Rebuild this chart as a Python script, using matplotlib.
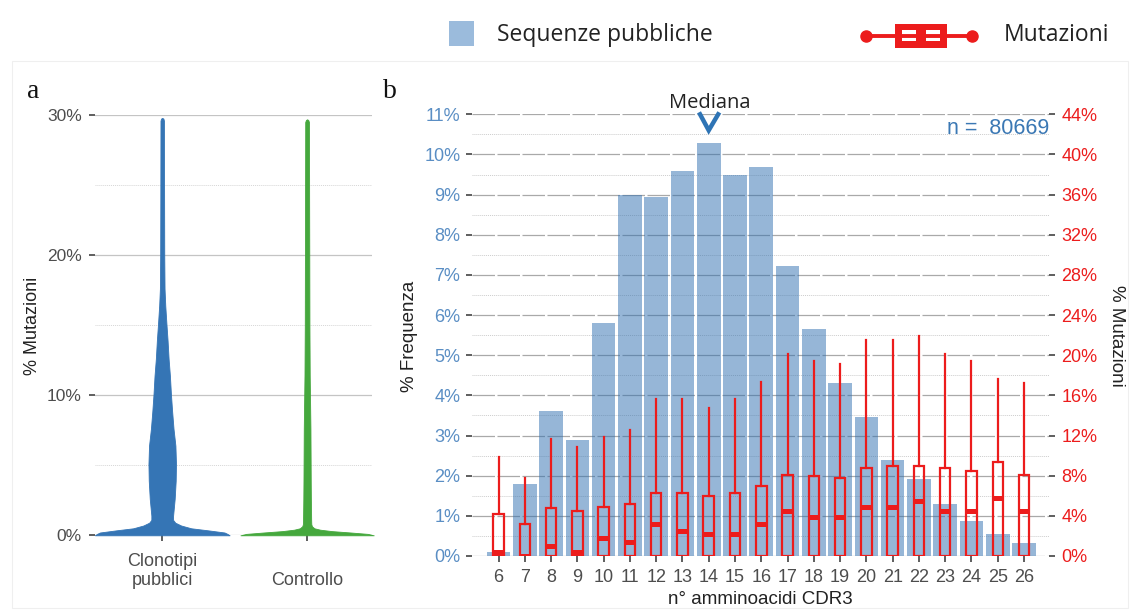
import matplotlib
matplotlib.use("Agg")
import matplotlib.pyplot as plt
from matplotlib.patches import Rectangle
from matplotlib.ticker import FuncFormatter, MultipleLocator

# ---------------- data ----------------
# panel a: violin profiles (half-width in category units at each % mutation level)
violin_groups = ["Clonotipi\npubblici", "Controllo"]
violin_colors = ["#3575b5", "#45a83d"]
mut_pubblici = [0, 0.1, 0.2, 0.35, 0.5, 0.7, 0.9, 1.1, 1.4, 2.6, 3.9, 5.1, 6.4, 7.6,
                8.9, 10.1, 11.4, 12.6, 13.9, 15.1, 16.4, 17.6, 20, 24, 29.6, 29.75, 29.8]
hw_pubblici = [0.465, 0.45, 0.43, 0.32, 0.2, 0.13, 0.09, 0.075, 0.075, 0.086, 0.093,
               0.095, 0.091, 0.078, 0.068, 0.060, 0.053, 0.044, 0.037, 0.029, 0.021,
               0.016, 0.014, 0.013, 0.012, 0.008, 0.0]
mut_controllo = [0, 0.1, 0.2, 0.3, 0.4, 0.5, 0.65, 0.8, 1.1, 2.6, 3.9, 7.6, 11.4, 15,
                 20, 24, 29.5, 29.65, 29.7]
hw_controllo = [0.46, 0.42, 0.30, 0.17, 0.09, 0.05, 0.033, 0.029, 0.028, 0.026, 0.025,
                0.023, 0.018, 0.016, 0.015, 0.014, 0.013, 0.008, 0.0]

# panel b: CDR3 length distribution and mutation boxplots
cdr3_len = [6, 7, 8, 9, 10, 11, 12, 13, 14, 15, 16, 17, 18, 19, 20, 21, 22, 23, 24, 25, 26]
freq_pct = [0.1, 1.8, 3.61, 2.89, 5.8, 9.0, 8.94, 9.59, 10.28, 9.5, 9.7, 7.21, 5.66,
            4.3, 3.45, 2.38, 1.93, 1.3, 0.87, 0.55, 0.32]
mut_q1 = [0, 0, 0, 0, 0, 0, 0, 0, 0, 0, 0, 0, 0, 0, 0, 0, 0, 0, 0, 0, 0]
mut_med = [0.35, 0, 1.03, 0.35, 1.79, 1.39, 3.15, 2.49, 2.16, 2.16, 3.15, 4.51, 3.85,
           3.85, 4.9, 4.84, 5.5, 4.51, 4.51, 5.74, 4.51]
mut_q3 = [4.21, 3.2, 4.78, 4.48, 4.88, 5.14, 6.27, 6.27, 5.94, 6.27, 6.97, 8.06, 8.0,
          7.8, 8.72, 8.96, 8.99, 8.72, 8.46, 9.38, 8.03]
mut_whi = [9.82, 7.8, 11.7, 10.9, 11.9, 12.6, 15.6, 15.6, 14.7, 15.6, 17.3, 20.1, 19.4,
           19.1, 21.5, 21.5, 21.9, 20.1, 19.4, 17.6, 17.2]
median_len = 14
n_total = 80669

# ---------------- styling ----------------
W, H = 1136, 610
fig = plt.figure(figsize=(W / 100, H / 100), dpi=100)
SANS = ["Liberation Sans", "DejaVu Sans"]
plt.rcParams["font.family"] = SANS
GREY_TXT = "#4d4d4d"
BLUE_TXT = "#5a8ec4"
RED = "#ec1c1c"
BAR_BLUE = "#2f6fb0"


def px_axes(l, t, r, b):
    return fig.add_axes([l / W, 1 - b / H, (r - l) / W, (b - t) / H])


def fpos(x, y):
    return x / W, 1 - y / H


pct = FuncFormatter(lambda v, _: f"{v:.0f}%")

# ---------------- panel a: violins ----------------
axa = px_axes(95, 115.1, 372.3, 535.3)
axa.set_xlim(0.536, 2.45)
axa.set_ylim(0, 30)
for i, (ys, hw) in enumerate([(mut_pubblici, hw_pubblici), (mut_controllo, hw_controllo)]):
    c = i + 1
    axa.fill_betweenx(ys, [c - h for h in hw], [c + h for h in hw],
                      color=violin_colors[i], lw=0.6, edgecolor=violin_colors[i],
                      clip_on=False, zorder=3)
axa.yaxis.set_major_locator(MultipleLocator(10))
axa.yaxis.set_minor_locator(MultipleLocator(5))
axa.yaxis.set_major_formatter(pct)
axa.grid(axis="y", which="major", color="#c4c4c4", lw=0.9, ls="-")
axa.grid(axis="y", which="minor", color="#d6d6d6", lw=0.7, ls=(0, (1, 1)))
axa.set_axisbelow(True)
for s in axa.spines.values():
    s.set_visible(False)
axa.set_xticks([1, 2])
axa.set_xticklabels(violin_groups, fontsize=13, color=GREY_TXT, linespacing=1.12)
for lab in axa.get_xticklabels():
    lab.set_verticalalignment("bottom")
axa.tick_params(axis="x", length=4, width=1.1, color="#333333", pad=34.5)
axa.tick_params(axis="y", which="major", length=4, width=1.1, color="#333333",
                labelsize=12.5, labelcolor=GREY_TXT, pad=5.5)
axa.tick_params(axis="y", which="minor", length=0)
fig.text(*fpos(32.5, 326), "% Mutazioni", rotation=90, ha="center", va="center",
         fontsize=13, color="#222222")

# ---------------- panel b: bars + boxplots ----------------
axb = px_axes(471.7, 114.3, 1049, 556)
axb.set_xlim(4.98, 26.95)
axb.set_ylim(0, 11)
axb.bar(cdr3_len, freq_pct, width=0.9, color=BAR_BLUE, alpha=0.5, lw=0, zorder=2)
axb.yaxis.set_major_locator(MultipleLocator(1))
axb.yaxis.set_minor_locator(MultipleLocator(0.5))
axb.yaxis.set_major_formatter(pct)
axb.grid(axis="y", which="major", color="#a9a9a9", lw=0.9, ls=(0, (18, 2)))
axb.grid(axis="y", which="minor", color="#cdcdcd", lw=0.7, ls=(0, (1, 1)))
axb.set_axisbelow(True)
for s in axb.spines.values():
    s.set_visible(False)
axb.set_xticks(cdr3_len)
axb.set_xticklabels([str(v) for v in cdr3_len])
axb.tick_params(axis="x", length=4, width=1.1, color="#333333", labelsize=13,
                labelcolor=GREY_TXT, pad=5)
axb.tick_params(axis="y", which="major", length=4, width=1.1, color="#333333",
                labelsize=13, labelcolor=BLUE_TXT, pad=4.2)
axb.tick_params(axis="y", which="minor", length=0)

axr = axb.twinx()
axr.set_ylim(0, 44)
axr.yaxis.set_major_locator(MultipleLocator(4))
axr.yaxis.set_major_formatter(pct)
for s in axr.spines.values():
    s.set_visible(False)
axr.tick_params(axis="y", length=4, width=1.1, color="#333333", labelsize=13,
                labelcolor=RED, pad=5)
stats = [dict(med=m, q1=a, q3=b, whislo=a, whishi=w, fliers=[])
         for a, m, b, w in zip(mut_q1, mut_med, mut_q3, mut_whi)]
axr.bxp(stats, positions=cdr3_len, widths=0.4, showcaps=False, showfliers=False,
        patch_artist=True, manage_ticks=False,
        boxprops=dict(facecolor="none", edgecolor=RED, lw=1.6),
        whiskerprops=dict(color=RED, lw=1.6),
        medianprops=dict(color=RED, lw=3.6, solid_capstyle="butt"))

# median marker and annotations
axb.plot([median_len - 0.33, median_len, median_len + 0.36], [11.0, 10.6, 11.0],
         color="#2e74b5", lw=3.2, solid_joinstyle="miter", clip_on=False, zorder=6)
axb.text(median_len + 0.04, 11.15, "Mediana", ha="center", va="baseline",
         fontsize=14.5, family=["Open Sans", "DejaVu Sans"], color="#222222")
axb.text(26.95, 10.52, f"n =  {n_total}", ha="right", va="baseline",
         fontsize=15.5, color="#3b78b4")

fig.text(*fpos(409, 336), "% Frequenza", rotation=90, ha="center", va="center",
         fontsize=13.5, color="#222222")
fig.text(*fpos(1116, 336), "% Mutazioni", rotation=270, ha="center", va="center",
         fontsize=13.5, color="#222222")
fig.text(*fpos(760, 599), "n\u00b0 amminoacidi CDR3", ha="center", va="center",
         fontsize=13.5, color="#222222")

# panel letters
fig.text(*fpos(27, 97.7), "a", ha="left", va="baseline", fontsize=20,
         family="Liberation Serif", color="#111111")
fig.text(*fpos(383, 97.7), "b", ha="left", va="baseline", fontsize=20,
         family="Liberation Serif", color="#111111")

# ---------------- legend ----------------
ov = fig.add_axes([0, 0, 1, 1], zorder=10)
ov.set_xlim(0, W)
ov.set_ylim(H, 0)
ov.axis("off")
ov.add_patch(Rectangle((12, 61), 1116, 547, fill=False, ec="#efefef", lw=0.8))
ov.add_patch(Rectangle((449, 21), 25, 25, fc="#9bbbdc", ec="none"))
ov.text(497, 35, "Sequenze pubbliche", ha="left", va="center", fontsize=16.5,
        family=["Open Sans", "DejaVu Sans"], color="#222222")
ov.plot([866, 972], [35.5, 35.5], color=RED, lw=2.8, solid_capstyle="butt")
ov.plot([866, 972], [35.5, 35.5], ls="none", marker="o", ms=8, color=RED)
ov.add_patch(Rectangle((895, 23.5), 52, 24, fc=RED, ec="none"))
ov.add_patch(Rectangle((902, 30), 14, 11, fc="white", ec="none"))
ov.add_patch(Rectangle((926, 30), 14, 11, fc="white", ec="none"))
ov.text(1004, 35, "Mutazioni", ha="left", va="center", fontsize=16.5,
        family=["Open Sans", "DejaVu Sans"], color="#222222")

fig.savefig("out.png", dpi=100)
